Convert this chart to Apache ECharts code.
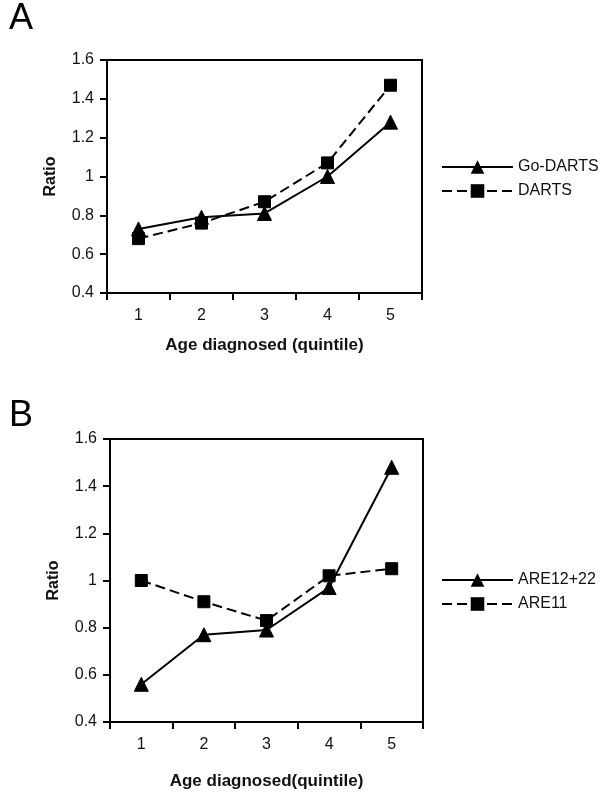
<!DOCTYPE html>
<html>
<head>
<meta charset="utf-8">
<script src="https://cdn.jsdelivr.net/npm/echarts@6/dist/echarts.min.js"></script>
<style>html,body{margin:0;padding:0;background:#fff}#c{width:600px;height:798px}</style>
</head>
<body>
<div id="c"></div>
<script>
const categories = ['1', '2', '3', '4', '5'];
const goDarts = [0.73, 0.79, 0.81, 1.00, 1.28];
const darts = [0.68, 0.76, 0.87, 1.07, 1.47];
const are1222 = [0.56, 0.77, 0.79, 0.97, 1.48];
const are11 = [1.00, 0.91, 0.83, 1.02, 1.05];
const yTicks = { min: 0.4, max: 1.6, interval: 0.2 };

const FONT = '"Liberation Sans", Arial, sans-serif';
const chart = echarts.init(document.getElementById('c'), null, { renderer: 'canvas' });

function xAxis(gi, name, gap) {
  return {
    type: 'category', gridIndex: gi, data: categories, boundaryGap: true,
    axisLine: { lineStyle: { color: '#000', width: 2 } },
    axisTick: { show: true, length: 7, lineStyle: { color: '#000', width: 2 } },
    axisLabel: { color: '#111', fontSize: 16, fontFamily: FONT, margin: 15 },
    splitLine: { show: false },
    name: name, nameLocation: 'middle', nameGap: gap,
    nameTextStyle: { color: '#111', fontSize: 17, fontWeight: 'bold', fontFamily: FONT }
  };
}
function yAxis(gi) {
  return {
    type: 'value', gridIndex: gi, min: yTicks.min, max: yTicks.max, interval: yTicks.interval,
    axisLine: { show: true, lineStyle: { color: '#000', width: 2 } },
    axisTick: { show: true, length: 7, lineStyle: { color: '#000', width: 2 } },
    axisLabel: { color: '#111', fontSize: 16, fontFamily: FONT, margin: 13,
      formatter: v => String(+v.toFixed(1)) },
    splitLine: { show: false },
    name: 'Ratio', nameLocation: 'middle', nameRotate: 90, nameGap: 48,
    nameTextStyle: { color: '#111', fontSize: 16, fontWeight: 'bold', fontFamily: FONT }
  };
}
function series(name, data, gi, symbol, size, dashed) {
  return {
    name: name, type: 'line', xAxisIndex: gi, yAxisIndex: gi, data: data,
    symbol: symbol, symbolSize: size, showSymbol: true,
    lineStyle: { color: '#000', width: 2, type: dashed ? [10, 5] : 'solid' },
    itemStyle: { color: '#000', borderColor: '#000' },
    emphasis: { disabled: true }, animation: false
  };
}
function legend(names, top) {
  return {
    orient: 'vertical', left: 441, top: top, padding: 0,
    itemWidth: 71, itemHeight: 17, itemGap: 8,
    data: names,
    textStyle: { color: '#111', fontSize: 16, fontFamily: FONT },
    selectedMode: false
  };
}

chart.setOption({
  animation: false,
  backgroundColor: '#fff',
  title: [
    { text: 'A', left: 4, top: -4, textStyle: { fontSize: 36, fontWeight: 'normal', color: '#000', fontFamily: FONT } },
    { text: 'B', left: 4, top: 393, textStyle: { fontSize: 36, fontWeight: 'normal', color: '#000', fontFamily: FONT } }
  ],
  grid: [
    { left: 107, top: 60, width: 315, height: 233, show: true, borderColor: '#000', borderWidth: 2, backgroundColor: 'transparent' },
    { left: 110, top: 439, width: 313, height: 283, show: true, borderColor: '#000', borderWidth: 2, backgroundColor: 'transparent' }
  ],
  xAxis: [xAxis(0, 'Age diagnosed (quintile)', 44), xAxis(1, 'Age diagnosed(quintile)', 51)],
  yAxis: [yAxis(0), yAxis(1)],
  legend: [legend(['Go-DARTS', 'DARTS'], 159), legend(['ARE12+22', 'ARE11'], 572)],
  series: [
    series('Go-DARTS', goDarts, 0, 'triangle', 14, false),
    series('DARTS', darts, 0, 'rect', 12, true),
    series('ARE12+22', are1222, 1, 'triangle', 14, false),
    series('ARE11', are11, 1, 'rect', 12, true)
  ]
});
</script>
</body>
</html>
